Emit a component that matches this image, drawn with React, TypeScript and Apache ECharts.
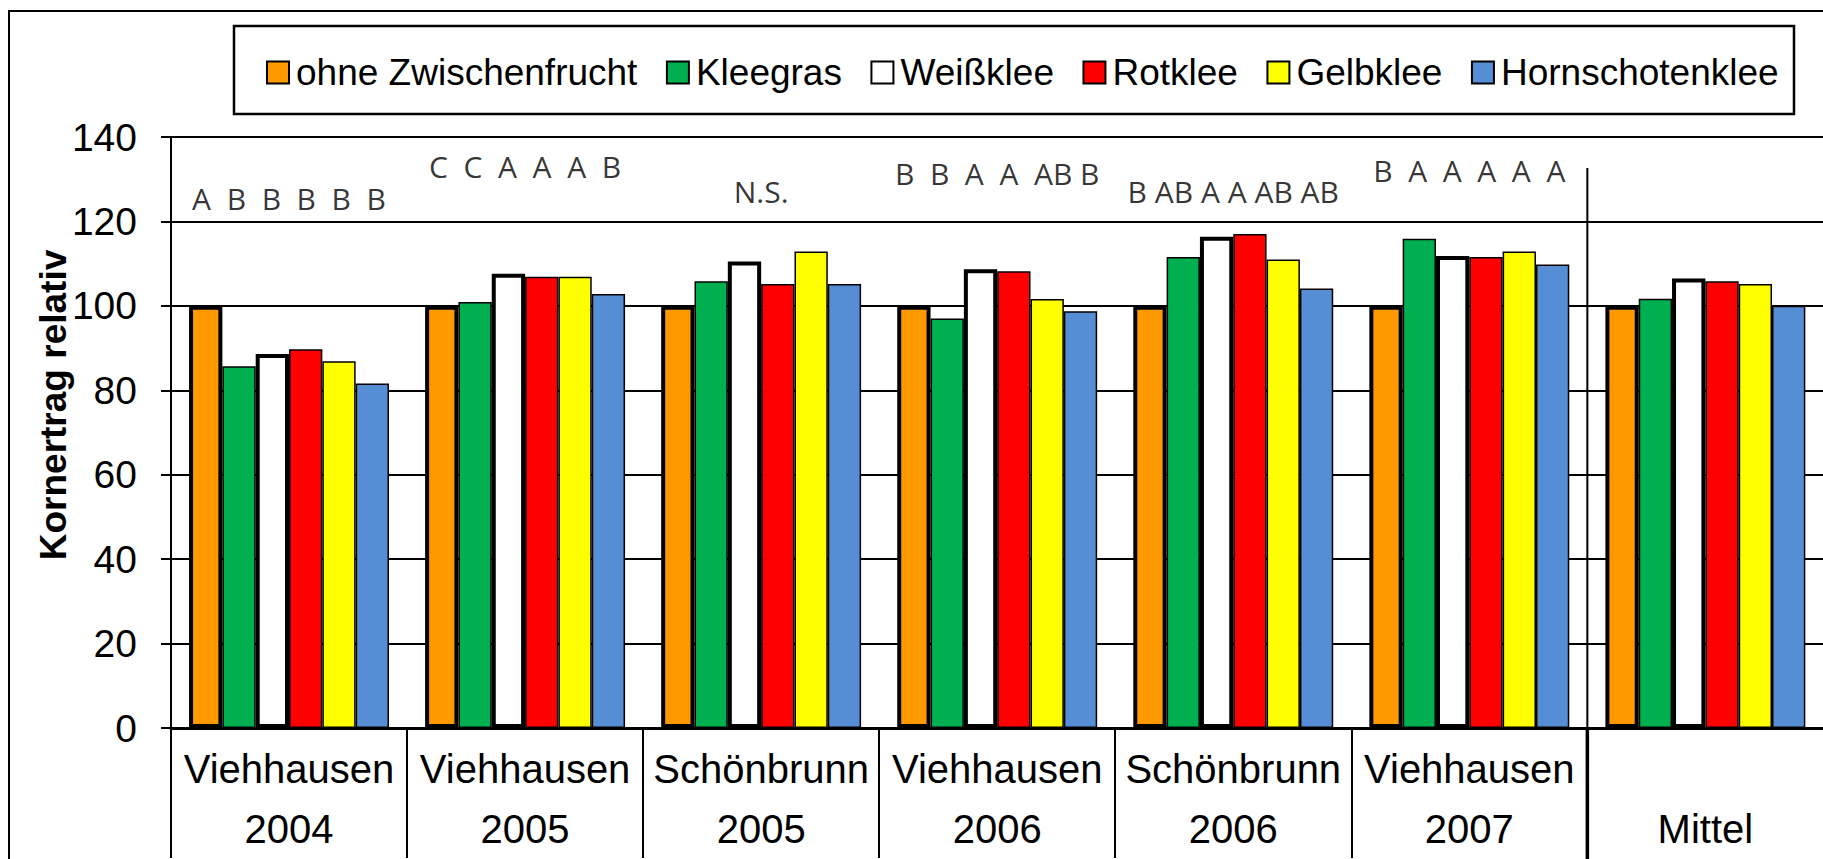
import React, { useEffect, useRef } from 'react';
import * as echarts from 'echarts';

// ---- data ----
const sites = ['Viehhausen', 'Viehhausen', 'Schönbrunn', 'Viehhausen', 'Schönbrunn', 'Viehhausen', ''];
const years = ['2004', '2005', '2005', '2006', '2006', '2007', 'Mittel'];
const seriesNames = ['ohne Zwischenfrucht', 'Kleegras', 'Weißklee', 'Rotklee', 'Gelbklee', 'Hornschotenklee'];

const ohneZwischenfrucht = [100, 100, 100, 100, 100, 100, 100];
const kleegras = [85.7, 100.9, 105.8, 97.0, 111.6, 115.9, 101.7];
const weissklee = [88.6, 107.6, 110.5, 108.7, 116.4, 111.8, 106.5];
const rotklee = [89.7, 106.9, 105.2, 108.2, 117.0, 111.6, 105.8];
const gelbklee = [86.9, 106.9, 112.9, 101.6, 111.0, 112.9, 105.2];
const hornschotenklee = [81.6, 102.8, 105.2, 98.7, 104.1, 109.8, 100.0];

const significance = ['A  B  B  B  B  B', 'C  C  A  A  A  B', 'N.S.', 'B  B  A  A  AB B', 'B AB A A AB AB', 'B  A  A  A  A  A', ''];
const significanceY: (number | string)[] = [125.5, 133.1, 127.2, 131.3, 127.0, 132.1, '-'];

const yMin = 0;
const yMax = 140;
const yInterval = 20;

const colors = ['#FF9900', '#00B050', '#FFFFFF', '#FF0000', '#FFFF00', '#558ED5'];
const borderWidths = [4, 1.5, 4, 1.5, 1.5, 1.5];
const values = [ohneZwischenfrucht, kleegras, weissklee, rotklee, gelbklee, hornschotenklee];

const categories = sites.map((s, i) => `${s}\n${years[i]}`);

const FONT = 'Liberation Sans, Arial, sans-serif';

export default function App() {
  const ref = useRef<HTMLDivElement>(null);

  useEffect(() => {
    if (!ref.current) return;
    const chart = echarts.init(ref.current, undefined, { renderer: 'svg' });

    const barSeries = seriesNames.map((name, k) => ({
      name,
      type: 'bar',
      data: values[k],
      barGap: '0%',
      barCategoryGap: '15.3%',
      itemStyle: { color: colors[k], borderColor: '#000', borderWidth: borderWidths[k] },
      z: 2,
    }));

    chart.setOption({
      animation: false,
      backgroundColor: '#fff',
      grid: { left: 171, top: 137, width: 1652.4, height: 600 },
      legend: {
        data: seriesNames,
        left: 266,
        top: 54,
        padding: 0,
        itemWidth: 22,
        itemHeight: 22,
        itemGap: 28.5,
        icon: 'rect',
        textStyle: { fontSize: 37, fontFamily: FONT, color: '#000', lineHeight: 36, padding: [0, 0, 0, 2] },
      },
      xAxis: {
        type: 'category',
        data: categories,
        axisLine: { show: true, lineStyle: { color: '#000', width: 3 } },
        axisTick: { show: true, interval: 0, length: 130, alignWithLabel: false, lineStyle: { color: '#000', width: 2 } },
        axisLabel: {
          interval: 0,
          fontSize: 40,
          lineHeight: 60,
          margin: 11,
          color: '#000',
          fontFamily: FONT,
        },
        splitLine: { show: false },
      },
      yAxis: {
        type: 'value',
        min: yMin,
        max: yMax,
        interval: yInterval,
        axisLine: { show: true, lineStyle: { color: '#000', width: 2 } },
        axisTick: { show: true, inside: false, length: 10, lineStyle: { color: '#000', width: 2 } },
        axisLabel: { fontSize: 39, margin: 34, color: '#000', fontFamily: FONT },
        splitLine: { show: true, lineStyle: { color: '#000', width: 2 } },
      },
      series: [
        ...barSeries,
        {
          name: 'Signifikanz',
          type: 'scatter',
          data: significanceY,
          symbol: 'circle',
          symbolSize: 1,
          itemStyle: { color: 'rgba(0,0,0,0)' },
          silent: true,
          z: 5,
          label: {
            show: true,
            position: 'inside',
            formatter: (p: any) => significance[p.dataIndex],
            fontFamily: 'Open Sans, sans-serif',
            fontSize: 30,
            color: '#000',
          },
        },
      ],
    });

    const x5 = chart.convertToPixel({ xAxisIndex: 0 }, 5) as number;
    const x6 = chart.convertToPixel({ xAxisIndex: 0 }, 6) as number;
    const sepX = (x5 + x6) / 2;
    const y0 = chart.convertToPixel({ yAxisIndex: 0 }, 0) as number;

    chart.setOption({
      graphic: [
        {
          id: 'frame',
          type: 'rect',
          shape: { x: 9, y: 11, width: 1900, height: 1000 },
          style: { fill: 'none', stroke: '#000', lineWidth: 2 },
          silent: true,
          z: 0,
        },
        {
          id: 'legendBox',
          type: 'rect',
          shape: { x: 234, y: 26, width: 1560, height: 88 },
          style: { fill: 'none', stroke: '#000', lineWidth: 2.5 },
          silent: true,
        },
        {
          id: 'ytitle',
          type: 'text',
          x: 53,
          y: 405,
          rotation: Math.PI / 2,
          style: {
            text: 'Kornertrag relativ',
            fontSize: 37,
            fontWeight: 'bold',
            fontFamily: FONT,
            fill: '#000',
            align: 'center',
            verticalAlign: 'middle',
          },
        },
        {
          id: 'sepTop',
          type: 'line',
          shape: { x1: sepX, y1: 168, x2: sepX, y2: y0 },
          style: { stroke: '#000', lineWidth: 2 },
          silent: true,
          z: 10,
        },
        {
          id: 'sepBottom',
          type: 'line',
          shape: { x1: sepX, y1: y0, x2: sepX, y2: 900 },
          style: { stroke: '#000', lineWidth: 3.5 },
          silent: true,
          z: 10,
        },
      ],
    });

    return () => chart.dispose();
  }, []);

  return (
    <div style={{ position: 'fixed', left: 0, top: 0, width: 1823, height: 859, overflow: 'hidden', background: '#fff' }}>
      <div ref={ref} style={{ width: 1840, height: 859 }} />
    </div>
  );
}
